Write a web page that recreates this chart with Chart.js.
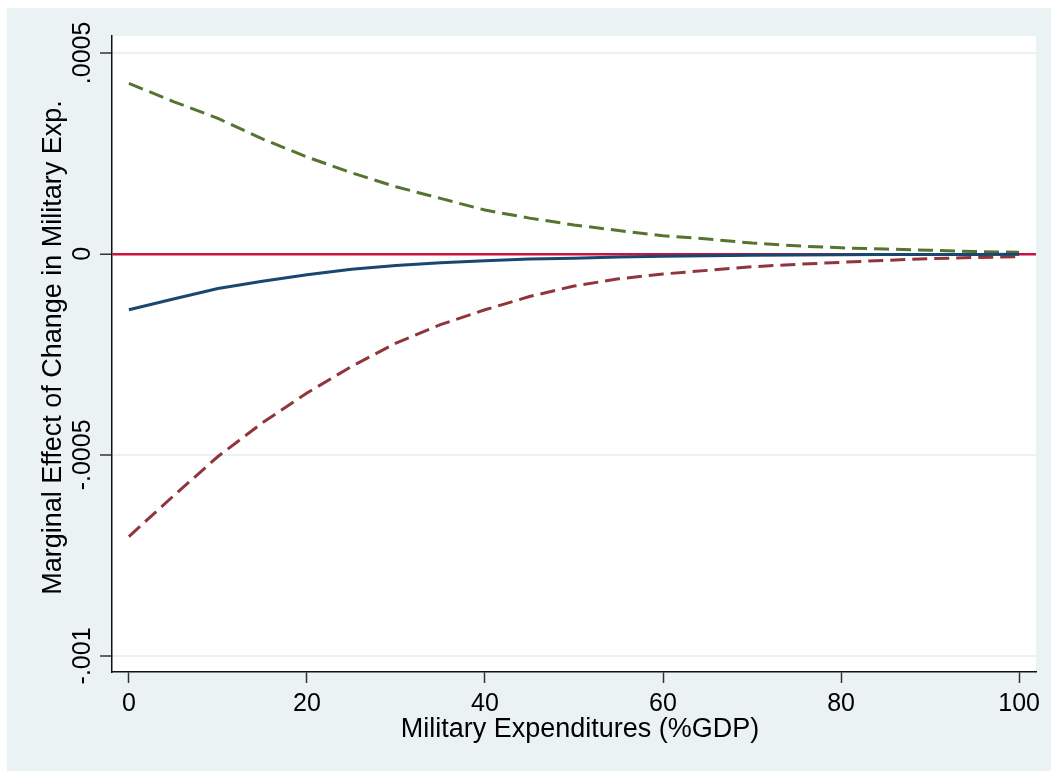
<!DOCTYPE html>
<html>
<head>
<meta charset="utf-8">
<script src="https://cdn.jsdelivr.net/npm/chart.js@4"></script>
<style>
  html, body { margin: 0; padding: 0; background: #fff; }
  #wrap { position: absolute; left: 7px; top: 8px; width: 1044px; height: 763px; background: #eaf2f3; }
</style>
</head>
<body>
<div id="wrap"><canvas id="marginsChart"></canvas></div>
<script>
// values
const milExp = [0, 5, 10, 15, 20, 25, 30, 35, 40, 45, 50, 55, 60, 65, 70, 75, 80, 85, 90, 95, 100];
const meanEffect = [-0.000139, -0.000112, -0.000086, -0.000068, -0.000052, -0.000038, -0.000029, -0.000022, -0.000017, -0.000013, -0.000011,
  -0.000008, -0.000006, -0.0000045, -0.0000035, -0.0000028, -0.0000022, -0.0000018, -0.0000015, -0.0000012, -0.000001];
const upperCI = [0.000424, 0.000379, 0.000337, 0.000286, 0.000241, 0.000202, 0.000167, 0.000138, 0.000109, 0.000089, 0.000072,
  0.000058, 0.000045, 0.000037, 0.000027, 0.00002, 0.000015, 0.000012, 0.000009, 0.000006, 0.000004];
const lowerCI = [-0.000703, -0.000602, -0.000504, -0.00042, -0.000346, -0.00028, -0.000222, -0.000176, -0.000139, -0.000106, -0.00008,
  -0.000062, -0.00005, -0.000041, -0.000032, -0.000026, -0.000021, -0.000016, -0.000012, -0.000009, -0.0000067];

const xTicks = [0, 20, 40, 60, 80, 100];
const yTicks = [-0.001, -0.0005, 0, 0.0005];
const yTickLabels = ['-.001', '-.0005', '0', '.0005'];
const xTitle = 'Military Expenditures (%GDP)';
const yTitle = 'Marginal Effect of Change in Military Exp.';

const FONT = "'Liberation Sans', Arial, Helvetica, sans-serif";

function toPoints(ys) {
  return milExp.map((x, i) => ({ x: x, y: ys[i] }));
}

// white plot region + text that Stata draws rotated
const stataLook = {
  id: 'stataLook',
  beforeDraw(chart) {
    const { ctx, chartArea } = chart;
    ctx.save();
    ctx.fillStyle = '#ffffff';
    ctx.fillRect(chartArea.left, chartArea.top, chartArea.right - chartArea.left, chartArea.bottom - chartArea.top);
    ctx.restore();
  },
  afterDraw(chart) {
    const { ctx } = chart;
    const yScale = chart.scales.y;
    ctx.save();
    ctx.fillStyle = '#000';
    ctx.textAlign = 'center';
    ctx.textBaseline = 'alphabetic';

    ctx.font = '25px ' + FONT;
    yTicks.forEach((v, i) => {
      const py = yScale.getPixelForValue(v);
      ctx.save();
      ctx.translate(83, py);
      ctx.rotate(-Math.PI / 2);
      ctx.fillText(yTickLabels[i], 0, 0);
      ctx.restore();
    });

    ctx.font = '27px ' + FONT;
    ctx.save();
    ctx.translate(54, 339.5);
    ctx.rotate(-Math.PI / 2);
    ctx.fillText(yTitle, 0, 0);
    ctx.restore();

    ctx.fillText(xTitle, 573, 729);
    ctx.restore();
  }
};

new Chart(document.getElementById('marginsChart'), {
  type: 'line',
  data: {
    datasets: [{
      label: 'mean',
      data: toPoints(meanEffect),
      borderColor: '#1a476f',
      borderWidth: 3,
      pointRadius: 0,
      tension: 0
    }, {
      label: 'upper',
      data: toPoints(upperCI),
      borderColor: '#55752f',
      borderWidth: 3,
      borderDash: [15, 7],
      pointRadius: 0,
      tension: 0
    }, {
      label: 'lower',
      data: toPoints(lowerCI),
      borderColor: '#90353b',
      borderWidth: 3,
      borderDash: [15, 7],
      pointRadius: 0,
      tension: 0
    }]
  },
  options: {
    responsive: true,
    maintainAspectRatio: false,
    animation: false,
    layout: { padding: { top: 28, right: 15, left: 0, bottom: 0 } },
    plugins: {
      legend: { display: false },
      tooltip: { enabled: false }
    },
    scales: {
      x: {
        type: 'linear',
        min: -1.9,
        max: 101.9,
        afterBuildTicks: (scale) => { scale.ticks = xTicks.map(v => ({ value: v })); },
        afterFit: (scale) => { scale.height = 99; },
        grid: { drawOnChartArea: false, drawTicks: true, tickLength: 11, tickColor: '#333', tickWidth: 1.5 },
        border: { display: true, color: '#111', width: 1.5 },
        ticks: { color: '#000', font: { family: FONT, size: 25 }, padding: 6, maxRotation: 0, autoSkip: false }
      },
      y: {
        type: 'linear',
        min: -0.00104,
        max: 0.000542,
        afterBuildTicks: (scale) => { scale.ticks = yTicks.map(v => ({ value: v })); },
        afterFit: (scale) => { scale.width = 105; },
        grid: {
          drawTicks: true,
          tickLength: 12,
          tickColor: '#333',
          tickWidth: 1.5,
          color: (c) => (c.tick && c.tick.value === 0 ? '#cc1040' : '#eaf2f3'),
          lineWidth: (c) => (c.tick && c.tick.value === 0 ? 2.5 : 2)
        },
        border: { display: true, color: '#111', width: 1.5 },
        ticks: { display: false }
      }
    }
  },
  plugins: [stataLook]
});
</script>
</body>
</html>
